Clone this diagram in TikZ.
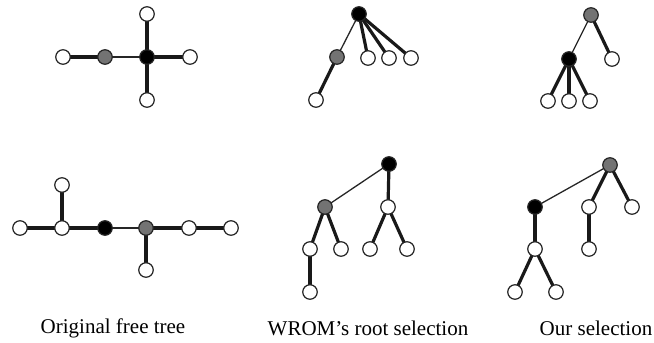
\documentclass[tikz,border=0pt]{standalone}
\usepackage{fontspec}
\setmainfont{Liberation Serif}
\usetikzlibrary{backgrounds}
\begin{document}
\begin{tikzpicture}[x=1pt,y=-1pt,
  vtx/.style={circle,draw=black!85,line width=1.2pt,minimum size=14.5pt,inner sep=0pt},
  plain/.style={vtx,fill=white},
  root/.style={vtx,fill=black},
  shade/.style={vtx,fill=black!55},
  heavy/.style={line width=3.2pt,draw=black!90},
  light/.style={line width=1.3pt,draw=black!85},
  caption/.style={font=\fontsize{21}{24}\selectfont}]
\useasboundingbox (0,0) rectangle (654,343);

% ---- original free tree (top) ----
\node[plain] (a1) at (63,57) {};
\node[shade] (a2) at (105,57) {};
\node[root]  (a3) at (147,57) {};
\node[plain] (a4) at (147,14) {};
\node[plain] (a5) at (190,57) {};
\node[plain] (a6) at (147,100) {};

% ---- WROM (top) ----
\node[root]  (b1) at (359,14) {};
\node[shade] (b2) at (337,57) {};
\node[plain] (b3) at (316,100) {};
\node[plain] (b4) at (368,58) {};
\node[plain] (b5) at (389,58) {};
\node[plain] (b6) at (411,58) {};

% ---- ours (top) ----
\node[shade] (c1) at (591,15) {};
\node[root]  (c2) at (569,59) {};
\node[plain] (c3) at (612,59) {};
\node[plain] (c4) at (548,101) {};
\node[plain] (c5) at (569,101) {};
\node[plain] (c6) at (590,101) {};

% ---- original free tree (bottom) ----
\node[plain] (d1) at (20,228) {};
\node[plain] (d2) at (62,228) {};
\node[plain] (d3) at (62,185) {};
\node[root]  (d4) at (105,228) {};
\node[shade] (d5) at (146,228) {};
\node[plain] (d6) at (146,270) {};
\node[plain] (d7) at (189,228) {};
\node[plain] (d8) at (231,228) {};

% ---- WROM (bottom) ----
\node[root]  (e1) at (389,164) {};
\node[shade] (e2) at (325,207) {};
\node[plain] (e3) at (388,207) {};
\node[plain] (e4) at (310,249) {};
\node[plain] (e5) at (341,249) {};
\node[plain] (e6) at (370,249) {};
\node[plain] (e7) at (407,249) {};
\node[plain] (e8) at (310,292) {};

% ---- ours (bottom) ----
\node[shade] (f1) at (610,165) {};
\node[root]  (f2) at (535,207) {};
\node[plain] (f3) at (589,207) {};
\node[plain] (f4) at (632,207) {};
\node[plain] (f5) at (589,249) {};
\node[plain] (f6) at (535,249) {};
\node[plain] (f7) at (515,292) {};
\node[plain] (f8) at (556,292) {};

% edges, drawn beneath the vertices
\begin{scope}[on background layer]
  \draw[light] (a2.center) -- (a3.center);
  \draw[heavy] (a1.center) -- (a2.center);
  \draw[heavy] (a3.center) -- (a4.center);
  \draw[heavy] (a3.center) -- (a5.center);
  \draw[heavy] (a3.center) -- (a6.center);

  \draw[light] (b1.center) -- (b2.center);
  \draw[heavy] (b2.center) -- (b3.center);
  \draw[heavy] (b1.center) -- (b4.center);
  \draw[heavy] (b1.center) -- (b5.center);
  \draw[heavy] (b1.center) -- (b6.center);

  \draw[light] (c1.center) -- (c2.center);
  \draw[heavy] (c1.center) -- (c3.center);
  \draw[heavy] (c2.center) -- (c4.center);
  \draw[heavy] (c2.center) -- (c5.center);
  \draw[heavy] (c2.center) -- (c6.center);

  \draw[heavy] (d1.center) -- (d2.center);
  \draw[heavy] (d2.center) -- (d3.center);
  \draw[heavy] (d2.center) -- (d4.center);
  \draw[light] (d4.center) -- (d5.center);
  \draw[heavy] (d5.center) -- (d6.center);
  \draw[heavy] (d5.center) -- (d7.center);
  \draw[heavy] (d7.center) -- (d8.center);

  \draw[light] (e1.center) -- (e2.center);
  \draw[heavy] (e1.center) -- (e3.center);
  \draw[heavy] (e2.center) -- (e4.center);
  \draw[heavy] (e2.center) -- (e5.center);
  \draw[heavy] (e3.center) -- (e6.center);
  \draw[heavy] (e3.center) -- (e7.center);
  \draw[heavy] (e4.center) -- (e8.center);

  \draw[light] (f1.center) -- (f2.center);
  \draw[heavy] (f1.center) -- (f3.center);
  \draw[heavy] (f1.center) -- (f4.center);
  \draw[heavy] (f3.center) -- (f5.center);
  \draw[heavy] (f2.center) -- (f6.center);
  \draw[heavy] (f6.center) -- (f7.center);
  \draw[heavy] (f6.center) -- (f8.center);
\end{scope}

% captions
\node[caption] (t1) at (113,328) {Original free tree};
\node[caption] (t2) at (368,328) {WROM’s root selection};
\node[caption] (t3) at (596,328) {Our selection};
\end{tikzpicture}
\end{document}
